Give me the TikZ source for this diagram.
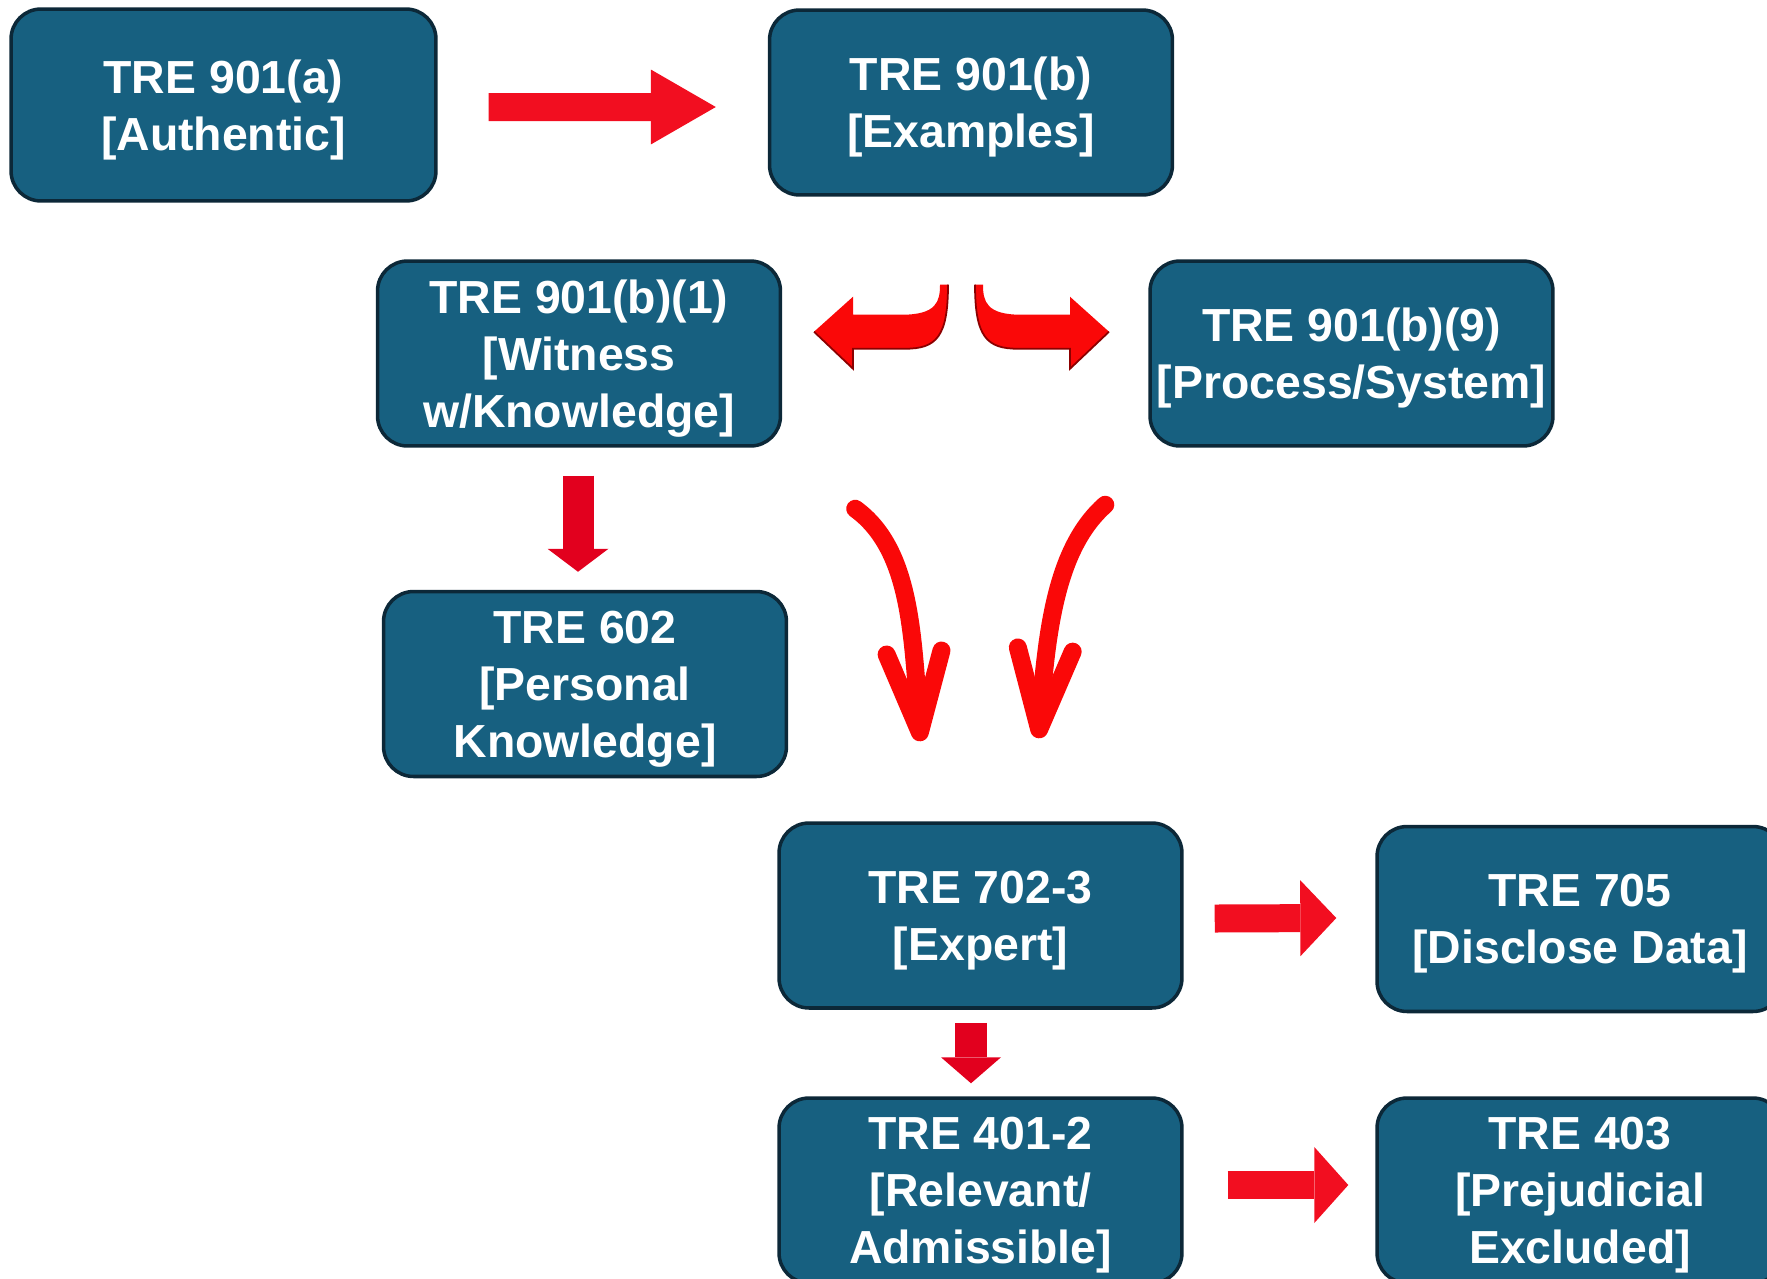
\documentclass[tikz,border=0pt]{standalone}
\usepackage{fontspec}
\setmainfont{Liberation Sans}
\usetikzlibrary{arrows.meta,positioning,calc}
\definecolor{boxblue}{RGB}{23,96,128}
\definecolor{boxline}{RGB}{12,40,56}
\definecolor{arrred}{RGB}{242,14,32}
\definecolor{arrdeep}{RGB}{226,0,30}
\definecolor{ribred}{RGB}{250,8,8}
\definecolor{ribdark}{RGB}{140,0,0}

\begin{document}
\begin{tikzpicture}[
  x=0.02cm, y=-0.02cm,
  font=\bfseries\fontsize{26.4}{32.4}\selectfont,
  rule/.style={draw=boxline,line width=2pt,fill=boxblue,text=white,
               rounded corners=0.6cm,align=center,inner sep=0pt,text depth=0pt,
               minimum width=8.06cm,minimum height=3.7cm},
  blk/.style n args={3}{draw=arrred,line width=#1,
               -{Triangle[length=#2,width=#3,line width=0pt]}},
  curvearr/.style={draw=ribred,line width=0.36cm,line cap=round,
               -{Straight Barb[length=1.6cm,width=1.1cm,round]}}
]
\useasboundingbox (0,0) rectangle (1767,1278);
\clip (0,0) rectangle (1767,1278);

% rule boxes
\node[rule,minimum width=8.5cm,minimum height=3.84cm] (a) at (223.5,105) {TRE 901(a)\\{[Authentic]}};
\node[rule] (b) at (971,102.5) {TRE 901(b)\\{[Examples]}};
\node[rule] (c) at (579,353.5) {TRE 901(b)(1)\\{[Witness}\\w/Knowledge]};
\node[rule] (d) at (1351.5,353.5) {TRE 901(b)(9)\\{[Process/System]}};
\node[rule] (e) at (585,684) {TRE 602\\{[Personal}\\Knowledge]};
\node[rule] (f) at (980.5,915.5) {TRE 702-3\\{[Expert]}};
\node[rule,minimum width=8.12cm] (g) at (1580,919) {TRE 705\\{[Disclose Data]}};
\node[rule] (h) at (980.5,1190.5) {TRE 401-2\\{[Relevant/}\\Admissible]};
\node[rule,minimum width=8.12cm] (i) at (1580,1190.5) {TRE 403\\{[Prejudicial}\\Excluded]};

% block arrows
\draw[blk={0.56cm}{1.3cm}{1.5cm}] ($(a.east)+(51,2)$) -- ($(b.west)+(-52,4.5)$);
\draw[blk={0.62cm}{0.46cm}{1.22cm},draw=arrdeep] ($(c.south)+(-1,28)$) -- ($(e.north)+(-7,-18)$);
\draw[blk={0.56cm}{0.72cm}{1.52cm}] ($(f.east)+(31,3)$) -- ($(g.west)+(-39,-1)$);
\draw[blk={0.64cm}{0.52cm}{1.2cm},draw=arrdeep] ($(f.south)+(-9.5,13)$) -- ($(h.north)+(-9.5,-13)$);
\draw[blk={0.55cm}{0.68cm}{1.52cm}] ($(h.east)+(44,-5.5)$) -- ($(i.west)+(-27,-5.5)$);

% split arrows under 901(b)
\foreach \s in {1,-1}{
  \begin{scope}[shift={($(b.south)+(-9.5,0)$)},xscale=\s]
    \fill[ribred] (-21.5,88) -- (-13.5,88) .. controls (-13.5,140) and (-25,152) .. (-56.5,152)
      -- (-108.5,152) -- (-108.5,172) -- (-147.5,135) -- (-108.5,100) -- (-108.5,118)
      -- (-60,118) .. controls (-25,118) and (-21.5,105) .. (-21.5,88) -- cycle;
    \draw[ribdark,line width=1pt] (-13.5,88) .. controls (-13.5,140) and (-25,152) .. (-56.5,152)
      -- (-108.5,152) -- (-108.5,172) -- (-147.5,135);
  \end{scope}
}

% curved arrows into 702-3
\draw[curvearr] ($(c.south east)+(73,61)$) .. controls +(55,40) and +(-8,-110) .. ($(f.north)+(-60,-80)$);
\draw[curvearr] ($(d.south west)+(-43,57)$) .. controls +(-50,44) and +(8,-105) .. ($(f.north)+(58,-83)$);
\end{tikzpicture}
\end{document}
